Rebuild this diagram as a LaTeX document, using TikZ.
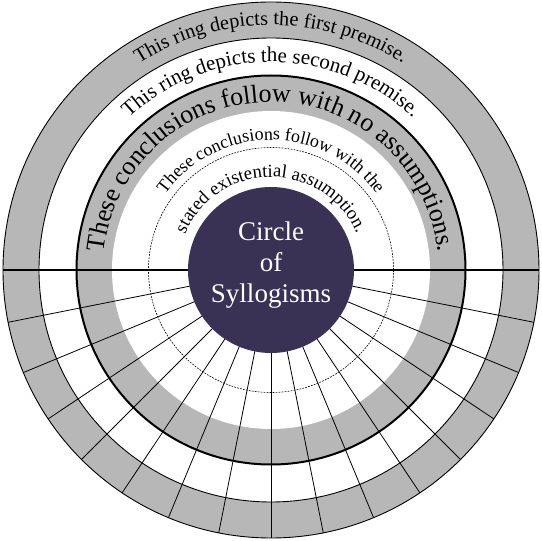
\documentclass[tikz,border=0pt]{standalone}
\usepackage{fontspec}
\setmainfont{Liberation Serif}
\usepackage{xcolor}
\usetikzlibrary{decorations.text}

\definecolor{ringgray}{RGB}{183,183,183}
\definecolor{hubnavy}{RGB}{57,50,85}

\newcommand{\firstfont}{\rmfamily\fontsize{20.3}{24}\selectfont}
\newcommand{\secondfont}{\rmfamily\fontsize{21}{25}\selectfont}
\newcommand{\bigfont}{\rmfamily\fontsize{26}{31}\selectfont}
\newcommand{\smallfont}{\rmfamily\fontsize{18}{22}\selectfont}
\newcommand{\lowfont}{\rmfamily\fontsize{18.6}{22}\selectfont}

\begin{document}
\begin{tikzpicture}[
    x=1pt, y=1pt,
    ring/.style={draw=black, line width=0.9pt},
    spoke/.style={draw=black, line width=0.8pt},
    arctext/.style={decorate, decoration={text along path, text align=center, text={#1}}}
]
\useasboundingbox (-271,-271) rectangle (271,270);

% Filled rings
\fill[ringgray] (0,0) circle (268);
\fill[white] (0,0) circle (232);
\fill[ringgray] (0,0) circle (194.5);
\fill[white] (0,0) circle (159);

% Dashed circle
\draw[dash pattern=on 1.8pt off 1.2pt, line width=0.6pt] (0,0) circle (122.5);

% Spokes (lower half)
\draw[spoke] (0,0) -- (-11.25:268);
\draw[spoke] (0,0) -- (-22.5:268);
\draw[spoke] (0,0) -- (-33.75:268);
\draw[spoke] (0,0) -- (-45:268);
\draw[spoke] (0,0) -- (-56.25:268);
\draw[spoke] (0,0) -- (-67.5:268);
\draw[spoke] (0,0) -- (-78.75:268);
\draw[spoke] (0,0) -- (-90:268);
\draw[spoke] (0,0) -- (-101.25:268);
\draw[spoke] (0,0) -- (-112.5:268);
\draw[spoke] (0,0) -- (-123.75:268);
\draw[spoke] (0,0) -- (-135:268);
\draw[spoke] (0,0) -- (-146.25:268);
\draw[spoke] (0,0) -- (-157.5:268);
\draw[spoke] (0,0) -- (-168.75:268);

% Diameter
\draw[line width=1.8pt] (180:268) -- (0:268);

% Ring outlines
\draw[ring] (0,0) circle (268);
\draw[ring] (0,0) circle (232);
\draw[line width=2pt] (0,0) circle (194.5);

% Hub
\node[circle, fill=hubnavy, minimum size=166pt, inner sep=0pt] (hub) at (0,0) {};
\node[text=white, align=center, font=\rmfamily\fontsize{27}{31}\selectfont] (hub_label) at (0,5) {Circle\\of\\Syllogisms};

% Ring texts
\path[arctext={|\firstfont|This ring depicts the first premise.}]
    (180:245) arc[start angle=180, end angle=0, radius=245];
\path[arctext={|\secondfont|This ring depicts the second premise.}]
    (180:208) arc[start angle=180, end angle=0, radius=208];
\path[arctext={|\bigfont|These conclusions follow with no assumptions.}]
    (180:168) arc[start angle=180, end angle=0, radius=168];
\path[arctext={|\smallfont|These conclusions follow with the}]
    (180:130) arc[start angle=180, end angle=0, radius=130];
\path[arctext={|\lowfont|stated existential assumption.}]
    (180:93) arc[start angle=180, end angle=0, radius=93];

\end{tikzpicture}
\end{document}
